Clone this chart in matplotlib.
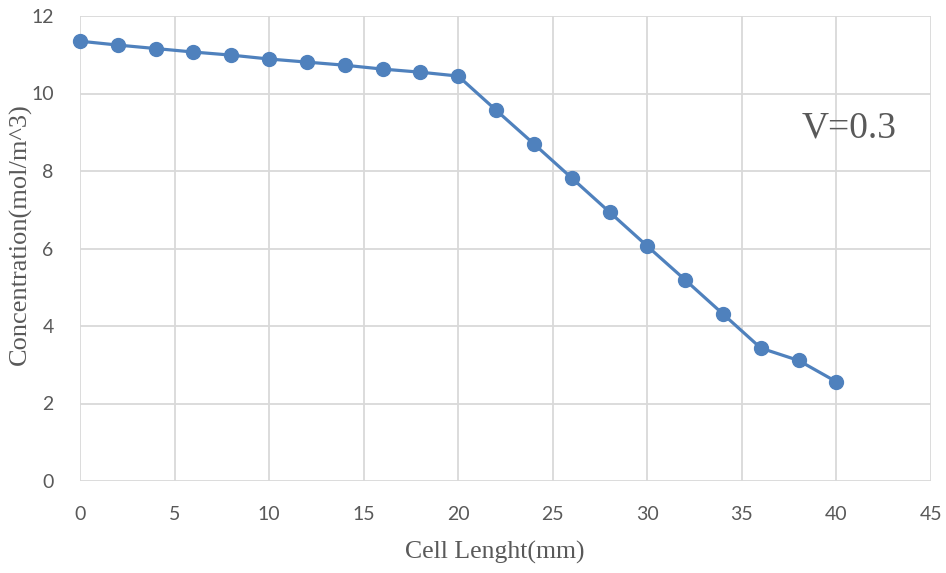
import matplotlib.pyplot as plt

# data
cell_length = [0, 2, 4, 6, 8, 10, 12, 14, 16, 18, 20, 22, 24, 26, 28, 30, 32, 34, 36, 38, 40]
concentration = [11.35, 11.25, 11.16, 11.07, 10.99, 10.89, 10.81, 10.73, 10.63, 10.55, 10.45,
                 9.57, 8.70, 7.82, 6.94, 6.06, 5.19, 4.31, 3.43, 3.11, 2.56]
x_ticks = [0, 5, 10, 15, 20, 25, 30, 35, 40, 45]
y_ticks = [0, 2, 4, 6, 8, 10, 12]

fig = plt.figure(figsize=(9.46, 5.73), dpi=100)
ax = fig.add_axes([80 / 946, 1 - 481 / 573, 851 / 946, 465 / 573])

ax.plot(cell_length, concentration, "-o", color="#4F81BD", lw=2.3, markersize=10,
        zorder=3, clip_on=False)

ax.set_xlim(0, 45)
ax.set_ylim(0, 12)
ax.set_xticks(x_ticks)
ax.set_yticks(y_ticks)
ax.grid(True, color="#D9D9D9", lw=1.3)
ax.set_axisbelow(True)
for s in ax.spines.values():
    s.set_visible(False)
ax.tick_params(length=0, labelsize=14, labelcolor="#595959")
ax.tick_params(axis="x", pad=18)
ax.tick_params(axis="y", pad=19)
for lab in ax.get_xticklabels() + ax.get_yticklabels():
    lab.set_family("Lato")

ax.set_xlabel("Cell Lenght(mm)", family="Liberation Serif", fontsize=18.5, color="#595959")
ax.set_ylabel("Concentration(mol/m^3)", family="Liberation Serif", fontsize=19, color="#595959")
ax.xaxis.set_label_coords(0.487, -0.128)
ax.yaxis.set_label_coords(-0.056, 0.531)

fig.text(849 / 946, 1 - 128 / 573, "V=0.3", family="Liberation Serif", fontsize=27,
         color="#595959", ha="center", va="center")

fig.savefig("out.png", dpi=100)
